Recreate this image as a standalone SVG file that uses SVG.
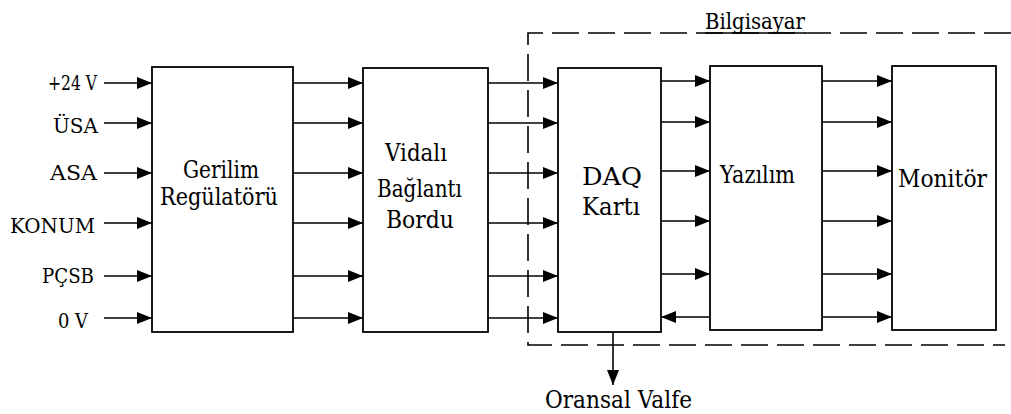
<svg xmlns="http://www.w3.org/2000/svg" width="1011" height="414" viewBox="0 0 1011 414">
<style>
.box{fill:#fff;stroke:#000;stroke-width:1.8}
.c line{stroke:#000;stroke-width:1.6}
.dash{fill:none;stroke:#000;stroke-width:1.6;stroke-dasharray:27 9}
.t{font-family:"DejaVu Serif","Liberation Serif",serif;fill:#000}
</style>
<defs>
<marker id="ah" markerUnits="userSpaceOnUse" markerWidth="16" markerHeight="12" refX="15" refY="6" orient="auto">
<path d="M0,0 L15,6 L0,12 Z" fill="#000"/>
</marker>
</defs>
<rect width="1011" height="414" fill="#fff"/>

<g class="t" font-size="24">
<g id="bilgisayar">
<path class="dash" d="M1011,33 H528 V345 H1005"/>
<line x1="705" y1="33" x2="805" y2="33" stroke="#000" stroke-width="1.6"/>
<text x="705" y="29" font-size="23" textLength="100" lengthAdjust="spacingAndGlyphs">Bilgisayar</text>
</g>

<g id="labels" font-size="21">
<text x="48" y="90" textLength="49" lengthAdjust="spacingAndGlyphs">+24 V</text>
<text x="53" y="133" textLength="45" lengthAdjust="spacingAndGlyphs">ÜSA</text>
<text x="50" y="180" textLength="47" lengthAdjust="spacingAndGlyphs">ASA</text>
<text x="10" y="233" textLength="85" lengthAdjust="spacingAndGlyphs">KONUM</text>
<text x="42" y="283" textLength="52" lengthAdjust="spacingAndGlyphs">PÇSB</text>
<text x="58" y="328" textLength="30" lengthAdjust="spacingAndGlyphs">0 V</text>
</g>

<g id="gerilim">
<rect class="box" x="152" y="67" width="141" height="265"/>
<text x="183" y="178" textLength="76" lengthAdjust="spacingAndGlyphs">Gerilim</text>
<text x="160" y="205" textLength="118" lengthAdjust="spacingAndGlyphs">Regülatörü</text>
</g>

<g id="vidali">
<rect class="box" x="363" y="68" width="125" height="264"/>
<text x="385" y="161" textLength="62" lengthAdjust="spacingAndGlyphs">Vidalı</text>
<text x="377" y="197" textLength="85" lengthAdjust="spacingAndGlyphs">Bağlantı</text>
<text x="386" y="228" textLength="68" lengthAdjust="spacingAndGlyphs">Bordu</text>
</g>

<g id="daq">
<rect class="box" x="558" y="68" width="103" height="264"/>
<text x="582" y="185" textLength="60" lengthAdjust="spacingAndGlyphs">DAQ</text>
<text x="582" y="215" textLength="58" lengthAdjust="spacingAndGlyphs">Kartı</text>
</g>

<g id="yazilim">
<rect class="box" x="710" y="66" width="112" height="264"/>
<text x="720" y="183" textLength="75" lengthAdjust="spacingAndGlyphs">Yazılım</text>
</g>

<g id="monitor">
<rect class="box" x="892" y="66" width="104" height="264"/>
<text x="898" y="187" textLength="89" lengthAdjust="spacingAndGlyphs">Monitör</text>
</g>

<g id="oransal">
<text x="545" y="408" textLength="147" lengthAdjust="spacingAndGlyphs">Oransal Valfe</text>
</g>
</g>

<g id="connectors" class="c">
<line x1="104" y1="83" x2="152" y2="83" marker-end="url(#ah)"/>
<line x1="104" y1="123" x2="152" y2="123" marker-end="url(#ah)"/>
<line x1="104" y1="173" x2="152" y2="173" marker-end="url(#ah)"/>
<line x1="104" y1="223" x2="152" y2="223" marker-end="url(#ah)"/>
<line x1="104" y1="276" x2="152" y2="276" marker-end="url(#ah)"/>
<line x1="104" y1="318" x2="152" y2="318" marker-end="url(#ah)"/>

<line x1="293" y1="83" x2="363" y2="83" marker-end="url(#ah)"/>
<line x1="293" y1="123" x2="363" y2="123" marker-end="url(#ah)"/>
<line x1="293" y1="173" x2="363" y2="173" marker-end="url(#ah)"/>
<line x1="293" y1="223" x2="363" y2="223" marker-end="url(#ah)"/>
<line x1="293" y1="276" x2="363" y2="276" marker-end="url(#ah)"/>
<line x1="293" y1="318" x2="363" y2="318" marker-end="url(#ah)"/>

<line x1="488" y1="83" x2="558" y2="83" marker-end="url(#ah)"/>
<line x1="488" y1="123" x2="558" y2="123" marker-end="url(#ah)"/>
<line x1="488" y1="173" x2="558" y2="173" marker-end="url(#ah)"/>
<line x1="488" y1="223" x2="558" y2="223" marker-end="url(#ah)"/>
<line x1="488" y1="276" x2="558" y2="276" marker-end="url(#ah)"/>
<line x1="488" y1="318" x2="558" y2="318" marker-end="url(#ah)"/>

<line x1="661" y1="81" x2="710" y2="81" marker-end="url(#ah)"/>
<line x1="661" y1="122" x2="710" y2="122" marker-end="url(#ah)"/>
<line x1="661" y1="171" x2="710" y2="171" marker-end="url(#ah)"/>
<line x1="661" y1="221" x2="710" y2="221" marker-end="url(#ah)"/>
<line x1="661" y1="274" x2="710" y2="274" marker-end="url(#ah)"/>
<line x1="710" y1="317" x2="661" y2="317" marker-end="url(#ah)"/>

<line x1="822" y1="81" x2="892" y2="81" marker-end="url(#ah)"/>
<line x1="822" y1="122" x2="892" y2="122" marker-end="url(#ah)"/>
<line x1="822" y1="171" x2="892" y2="171" marker-end="url(#ah)"/>
<line x1="822" y1="221" x2="892" y2="221" marker-end="url(#ah)"/>
<line x1="822" y1="274" x2="892" y2="274" marker-end="url(#ah)"/>
<line x1="822" y1="317" x2="892" y2="317" marker-end="url(#ah)"/>

<line x1="613" y1="332" x2="613" y2="385" marker-end="url(#ah)"/>
</g>
</svg>
